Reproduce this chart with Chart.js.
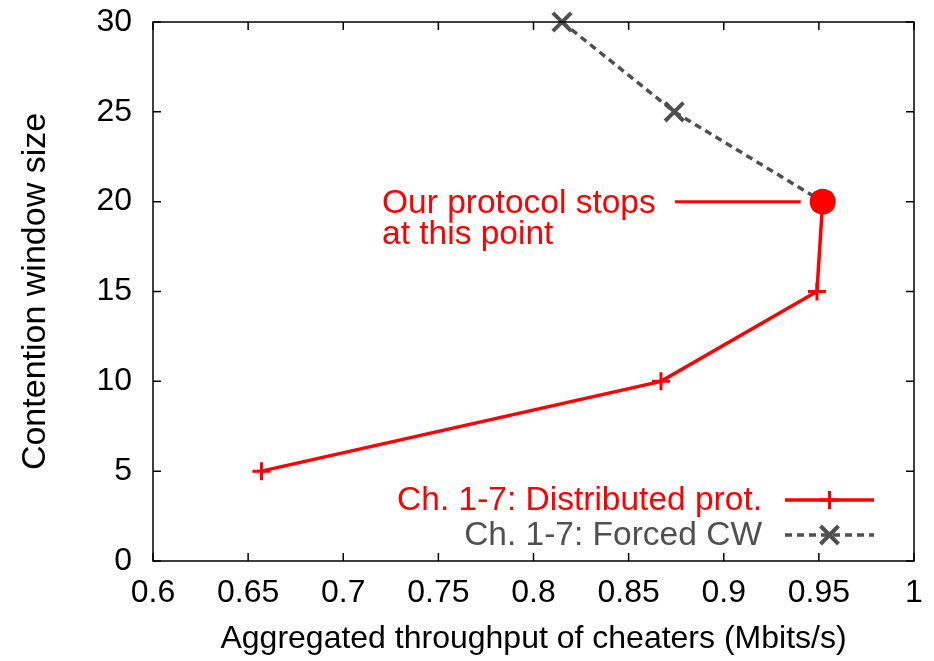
<!DOCTYPE html>
<html>
<head>
<meta charset="utf-8">
<script src="https://cdn.jsdelivr.net/npm/chart.js@4/dist/chart.umd.min.js"></script>
<style>
  html, body { margin: 0; padding: 0; background: #fff; }
  #wrap { width: 934px; height: 661px; }
</style>
</head>
<body>
<div id="wrap"><canvas id="chart1" width="934" height="661"></canvas></div>
<script>
// Data
var xTicks = [0.6, 0.65, 0.7, 0.75, 0.8, 0.85, 0.9, 0.95, 1]
var yTicks = [0, 5, 10, 15, 20, 25, 30]

var distLabel = 'Ch. 1-7: Distributed prot.'
var distThroughput = [0.657, 0.867, 0.949, 0.952]
var distCW = [5, 10, 15, 20]

var forcedLabel = 'Ch. 1-7: Forced CW'
var forcedThroughput = [0.815, 0.874, 0.952]
var forcedCW = [30, 25, 20]

var stopThroughput = [0.952]
var stopCW = [20]
var stopText = ['Our protocol stops', 'at this point']

var RED = '#ff0000'
var GRAY = '#505050'
var FONT = 'Liberation Sans, Arial, sans-serif'
var FSIZE = 32
var NOTE_SIZE = 33.5

function toPoints(xs, ys) {
  return xs.map(function (x, i) { return { x: x, y: ys[i] } })
}

// box, inward ticks, legend and the note
var framePlugin = {
  id: 'frame',
  afterDatasetsDraw: function (chart) {
    var ctx = chart.ctx
    var a = chart.chartArea
    var xs = chart.scales.x
    var ys = chart.scales.y
    ctx.save()
    ctx.strokeStyle = '#000'
    ctx.lineWidth = 1.5
    ctx.strokeRect(a.left, a.top, a.right - a.left, a.bottom - a.top)
    ctx.beginPath()
    xTicks.forEach(function (v) {
      var px = xs.getPixelForValue(v)
      ctx.moveTo(px, a.bottom); ctx.lineTo(px, a.bottom - 8)
      ctx.moveTo(px, a.top); ctx.lineTo(px, a.top + 8)
    })
    yTicks.forEach(function (v) {
      var py = ys.getPixelForValue(v)
      ctx.moveTo(a.left, py); ctx.lineTo(a.left + 8, py)
      ctx.moveTo(a.right, py); ctx.lineTo(a.right - 8, py)
    })
    ctx.stroke()

    // note pointing at the stop point
    var cx = xs.getPixelForValue(stopThroughput[0])
    var cy = ys.getPixelForValue(stopCW[0])
    ctx.fillStyle = RED
    ctx.font = NOTE_SIZE + 'px ' + FONT
    ctx.textAlign = 'left'
    ctx.textBaseline = 'alphabetic'
    ctx.fillText(stopText[0], 382, cy + 11)
    ctx.fillText(stopText[1], 382, cy + 42)
    ctx.strokeStyle = RED
    ctx.lineWidth = 3
    ctx.beginPath()
    ctx.moveTo(675, cy); ctx.lineTo(cx - 22, cy)
    ctx.stroke()

    // legend, bottom right inside the box
    var rows = [
      { text: distLabel, color: RED, dash: [], style: 'plus' },
      { text: forcedLabel, color: GRAY, dash: [7, 5], style: 'x' }
    ]
    var x1 = a.right - 129
    var x2 = a.right - 40
    var xm = (x1 + x2) / 2
    ctx.textBaseline = 'middle'
    rows.forEach(function (r, i) {
      var y = a.bottom - 61 + i * 35
      ctx.fillStyle = r.color
      ctx.textAlign = 'right'
      ctx.fillText(r.text, x1 - 23, y + 1)
      ctx.strokeStyle = r.color
      ctx.lineWidth = 3.5
      ctx.setLineDash(r.dash)
      ctx.beginPath(); ctx.moveTo(x1, y); ctx.lineTo(x2, y); ctx.stroke()
      ctx.setLineDash([])
      ctx.beginPath()
      if (r.style === 'plus') {
        ctx.lineWidth = 3
        ctx.moveTo(xm - 9, y); ctx.lineTo(xm + 9, y)
        ctx.moveTo(xm, y - 9); ctx.lineTo(xm, y + 9)
      } else {
        ctx.lineWidth = 4
        ctx.moveTo(xm - 9, y - 9); ctx.lineTo(xm + 9, y + 9)
        ctx.moveTo(xm - 9, y + 9); ctx.lineTo(xm + 9, y - 9)
      }
      ctx.stroke()
    })
    ctx.restore()
  }
}

var chartCanvas = document.getElementById('chart1').getContext('2d')

new Chart(chartCanvas, {
  type: 'scatter',
  data: {
    datasets: [
      {
        label: 'stop',
        data: toPoints(stopThroughput, stopCW),
        pointStyle: 'circle',
        pointRadius: 13,
        backgroundColor: RED,
        borderColor: RED,
        borderWidth: 0,
        showLine: false,
        order: 0
      },
      {
        label: distLabel,
        data: toPoints(distThroughput, distCW),
        showLine: true,
        borderColor: RED,
        backgroundColor: RED,
        borderWidth: 3.5,
        pointStyle: 'cross',
        pointRadius: 9,
        pointBorderWidth: 3,
        pointBorderColor: RED,
        order: 1
      },
      {
        label: forcedLabel,
        data: toPoints(forcedThroughput, forcedCW),
        showLine: true,
        borderColor: GRAY,
        backgroundColor: GRAY,
        borderWidth: 3.5,
        borderDash: [7, 5],
        pointStyle: 'crossRot',
        pointRadius: 13,
        pointBorderWidth: 4,
        pointBorderColor: GRAY,
        order: 2
      }
    ]
  },
  options: {
    responsive: false,
    animation: false,
    clip: false,
    layout: { padding: { top: 22, right: 20, left: 0, bottom: 0 } },
    plugins: {
      legend: { display: false },
      tooltip: { enabled: false }
    },
    scales: {
      x: {
        type: 'linear',
        min: 0.6,
        max: 1,
        afterBuildTicks: function (scale) {
          scale.ticks = xTicks.map(function (v) { return { value: v } })
        },
        afterFit: function (scale) {
          scale.height = 100
          scale.paddingLeft = 0
          scale.paddingRight = 0
        },
        grid: { display: false, drawTicks: false },
        border: { display: false },
        ticks: {
          color: '#000',
          padding: 13,
          maxRotation: 0,
          autoSkip: false,
          font: { family: FONT, size: FSIZE },
          callback: function (v) { return String(parseFloat(Number(v).toFixed(2))) }
        },
        title: {
          display: true,
          text: 'Aggregated throughput of cheaters (Mbits/s)',
          color: '#000',
          font: { family: FONT, size: FSIZE },
          padding: { top: 0, bottom: 3 }
        }
      },
      y: {
        type: 'linear',
        min: 0,
        max: 30,
        afterBuildTicks: function (scale) {
          scale.ticks = yTicks.map(function (v) { return { value: v } })
        },
        afterFit: function (scale) {
          scale.width = 153
          scale.paddingTop = 0
          scale.paddingBottom = 0
        },
        grid: { display: false, drawTicks: false },
        border: { display: false },
        ticks: {
          color: '#000',
          padding: 21,
          autoSkip: false,
          font: { family: FONT, size: FSIZE }
        },
        title: {
          display: true,
          text: 'Contention window size',
          color: '#000',
          font: { family: FONT, size: 34 },
          padding: { top: 15, bottom: 0 }
        }
      }
    }
  },
  plugins: [framePlugin]
})
</script>
</body>
</html>
